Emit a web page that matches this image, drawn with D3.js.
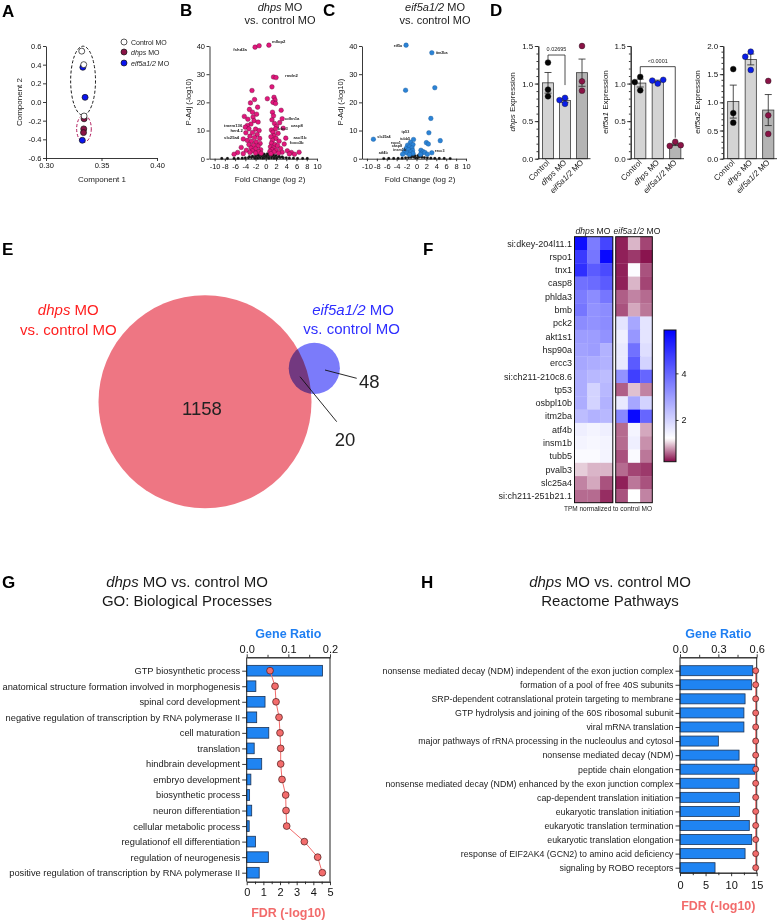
<!DOCTYPE html>
<html>
<head>
<meta charset="utf-8">
<script src="https://cdn.jsdelivr.net/npm/d3@7/dist/d3.min.js"></script>
<style>
html,body{margin:0;padding:0;background:#fff;}
svg{display:block;}
</style>
</head>
<body>
<svg id="fig" width="781" height="921" xmlns="http://www.w3.org/2000/svg"></svg>
<script>
// ===================== DATA =====================
// A: PCA
const pcaGroups = ["Control MO", "*dhps* MO", "*eif5a1/2* MO"];
const pcaControl = [[0.3322, 0.545], [0.3340, 0.400], [0.3343, -0.150]];
const pcaDhps = [[0.3343, -0.180], [0.3340, -0.288], [0.3338, -0.328]];
const pcaEif = [[0.3332, 0.372], [0.3352, 0.050], [0.3327, -0.410]];
const pcaEllipseAll = [0.3334, 0.228, 0.0112, 0.370];   // cx, cy, rx, ry
const pcaEllipseDhps = [0.3342, -0.287, 0.0066, 0.145];
const pcaXTicks = [0.30, 0.35, 0.40];
const pcaYTicks = [-0.6, -0.4, -0.2, 0.0, 0.2, 0.4, 0.6];

// B: volcano dhps MO vs control MO  [log2 FC, -log10 padj]
const volcBSig = [
  [-2.1,39.6],[-1.3,40.1],[0.6,40.3],
  [1.5,29.0],[2.0,28.8],[1.2,25.5],[0.3,21.3],[1.6,21.8],[1.8,20.8],[1.4,20.0],[1.9,19.6],[3.0,17.2],
  [1.3,16.5],[1.5,15.2],[3.2,14.2],[1.2,13.8],[2.7,12.8],[1.7,12.5],[2.1,11.5],[3.4,10.8],[1.9,10.6],
  [1.1,10.2],[1.4,9.4],[2.4,9.0],[1.6,8.2],[1.0,7.8],[2.0,7.2],[3.9,7.3],[1.3,6.5],[2.6,6.2],[3.6,5.2],
  [1.1,5.5],[1.8,5.0],[2.3,4.6],[0.9,4.2],[1.5,3.8],[2.9,3.6],[1.2,3.2],[2.0,3.0],[4.2,2.8],[0.8,2.6],
  [1.6,2.4],[3.2,2.3],[5.0,2.2],[6.5,2.3],[2.5,2.0],[1.0,1.8],[4.6,1.7],[5.6,1.6],
  [-2.2,21.0],[-3.0,19.8],[-1.6,18.3],[-3.2,17.5],[-2.6,16.5],[-1.8,15.8],[-4.2,15.0],[-2.5,14.8],
  [-3.5,14.0],[-2.3,13.5],[-1.5,13.0],[-2.9,12.3],[-3.6,11.8],[-4.0,11.2],[-3.3,10.6],[-2.0,10.5],
  [-1.3,10.0],[-3.9,9.2],[-2.6,9.3],[-1.7,8.6],[-3.1,8.0],[-2.2,7.5],[-1.2,7.2],[-4.4,7.0],[-3.6,6.5],
  [-2.8,6.2],[-1.9,5.9],[-1.1,5.4],[-3.3,5.0],[-2.4,4.8],[-1.5,4.5],[-4.8,4.0],[-2.9,3.8],[-2.0,3.5],
  [-1.0,3.2],[-3.8,3.0],[-2.6,2.8],[-1.4,2.5],[-5.5,2.2],[-3.1,2.2],[-2.0,2.0],[-6.2,1.6],[-4.4,1.8],
  [-0.9,1.9],[-2.7,24.2]
];
const volcBNs = [
  [-0.2,0.3],[0.2,0.4],[-0.5,0.6],[0.5,0.7],[-0.8,1.0],[0.8,1.1],[-1.0,1.3],[1.0,1.4],[-0.4,1.1],[0.4,1.2],
  [-0.7,1.5],[0.7,1.6],[-1.3,0.8],[1.3,0.9],[-1.8,0.6],[1.8,0.7],[-2.3,0.5],[2.3,0.5],[-2.8,0.4],[2.8,0.4],
  [-3.4,0.3],[3.4,0.3],[-4.0,0.25],[4.0,0.3],[-4.6,0.2],[4.6,0.2],[-5.4,0.15],[5.4,0.2],[-6.2,0.1],[6.2,0.1],
  [-7.5,0.1],[7.2,0.1],[-0.1,0.8],[0.1,1.0],[-1.5,1.2],[1.5,1.3],[-2.0,1.0],[2.0,1.1],[-2.6,0.9],[2.6,0.8],
  [-3.2,0.7],[3.2,0.6],[-0.6,0.2],[0.6,0.2],[-1.1,0.3],[1.1,0.3],[-1.6,0.2],[1.6,0.2],[-2.1,0.15],[2.1,0.15],
  [-8.6,0.1],[8.1,0.1],[-0.3,1.6],[0.3,1.7]
];
// labels: [text, x, y, anchor]
const volcBLabels = [
  ["mllop2",1.2,40.9,"start"],["fshd2a",-3.7,38.3,"end"],["rmdn2",3.75,29.1,"start"],
  ["cdkn1a",3.75,13.9,"start"],["casp8",4.9,11.3,"start"],["bbc3",2.4,10.2,"start"],
  ["ascl1b",5.4,7.1,"start"],["foxo3b",4.7,5.2,"start"],["tmem136",-4.6,11.1,"end"],
  ["her4.2",-4.5,9.3,"end"],["slc25a4",-5.2,7.1,"end"]
];

// C: volcano eif5a1/2 MO vs control MO
const volcCSig = [
  [-2.1,40.3],[3.1,37.6],[-2.2,24.3],[3.7,25.2],[2.9,14.3],[2.5,9.2],[4.8,6.4],[2.0,5.7],[2.4,5.2],[3.1,2.1],
  [-8.7,6.9],
  [-0.6,6.8],[-1.2,5.8],[-0.7,5.0],[-1.8,4.8],[-1.4,4.2],[-0.9,3.8],[-2.1,3.6],[-1.6,3.2],[-0.8,2.9],
  [-2.4,2.6],[-1.2,2.4],[-1.9,2.0],[-0.7,1.9],[-2.8,1.6],[-1.4,1.5],
  [0.9,3.0],[1.3,2.5],[1.0,1.9],[1.7,2.2],[2.2,1.6],[0.8,1.5]
];
const volcCNs = [
  [-0.2,0.3],[0.2,0.3],[-0.5,0.6],[0.5,0.6],[-0.8,0.9],[0.8,0.9],[-0.3,1.0],[0.3,1.1],[-1.1,0.5],[1.1,0.5],
  [-1.6,0.4],[1.6,0.4],[-2.2,0.3],[2.2,0.3],[-2.9,0.2],[2.9,0.2],[-3.7,0.15],[3.7,0.15],[-4.6,0.1],[4.6,0.1],
  [-5.6,0.1],[5.6,0.1],[-6.6,0.05],[6.8,0.05],[-0.6,1.3],[0.6,1.3],[-1.0,1.1],[1.0,1.1]
];
const volcCLabels = [
  ["eif5a",-2.9,39.6,"end"],["itm2ba",3.9,37.0,"start"],["tp53",-3.0,9.0,"start"],
  ["slc25a4",-7.9,7.4,"start"],["tubb5",-3.3,6.6,"start"],["rspo1",-5.2,5.3,"start"],
  ["casp8",-5.0,4.0,"start"],["insm1b",-4.7,2.8,"start"],["atf4b",-7.6,1.6,"start"],
  ["ercc3",3.7,2.5,"start"]
];
const volcXTicks = [-10,-8,-6,-4,-2,0,2,4,6,8,10];
const volcYTicks = [0,10,20,30,40];

// D: qPCR (3 replicates per group)
const qpcrGroups = ["Control", "*dhps* MO", "*eif5a1/2* MO"];
const qpcrGenes = ["*dhps* Expression", "*eif5a1* Expression", "*eif5a2* Expression"];
const dhpsExpr   = [[1.28, 0.92, 0.83], [0.81, 0.73, 0.78], [1.50, 1.03, 0.905]];
const eif5a1Expr = [[1.09, 1.02, 0.91], [1.00, 1.04, 1.05], [0.225, 0.17, 0.18]];
const eif5a2Expr = [[1.59, 0.81, 0.64], [1.90, 1.81, 1.575], [1.38, 0.77, 0.44]];
const qpcrMax = [1.5, 1.5, 2.0];
const qpcrBrackets = [
  {chart: 0, from: 0, to: 1, level: 1.38, endFrom: 1.30, endTo: 0.98, text: "0.02695"},
  {chart: 1, from: 0, to: 2, level: 1.225, endFrom: 1.13, endTo: 0.28, text: "<0.0001"}
];

// E: Venn
const vennNames = [["*dhps* MO", "vs. control MO"], ["*eif5a1/2* MO", "vs. control MO"]];
const vennCounts = [1158, 20, 48]; // only dhps, shared, only eif5a1/2

// F: heatmap (TPM normalized to control MO)
const hmGenes = ["si:dkey-204l11.1","rspo1","tnx1","casp8","phlda3","bmb","pck2","akt1s1","hsp90a","ercc3",
  "si:ch211-210c8.6","tp53","osbpl10b","itm2ba","atf4b","insm1b","tubb5","pvalb3","slc25a4","si:ch211-251b21.1"];
const hmDhps = [[5.6,3.6,4.6],[4.8,3.7,5.7],[5.0,4.2,4.5],[3.8,3.9,4.2],[3.6,3.3,3.7],[3.7,3.2,3.3],[3.3,3.2,3.3],
  [3.0,3.0,3.2],[2.9,3.0,2.6],[2.8,2.7,2.6],[2.7,2.5,2.4],[2.7,2.0,2.5],[2.7,2.0,2.6],[2.4,2.6,2.5],
  [1.5,1.4,1.5],[1.4,1.35,1.4],[1.3,1.3,1.4],[1.0,0.9,0.9],[0.7,0.85,0.5],[0.6,0.6,0.35]];
const hmEif = [[0.3,0.9,0.45],[0.3,0.4,0.25],[0.3,1.25,0.5],[0.3,0.9,0.45],[0.55,0.7,0.6],[0.5,0.85,0.65],[1.7,2.8,1.7],
  [1.5,3.1,1.7],[1.6,3.8,1.8],[1.6,4.2,2.0],[3.2,4.7,4.0],[0.55,0.95,0.7],[1.6,2.8,2.0],[3.4,5.7,4.0],
  [0.6,1.4,0.85],[0.6,1.5,0.75],[0.5,1.3,0.65],[0.6,0.45,0.4],[0.3,0.65,0.5],[0.5,1.2,0.7]];
const hmGroups = ["*dhps* MO", "*eif5a1/2* MO"];
const hmColorDomain = [0.21, 1.2, 5.86];
const hmBarTicks = [2, 4];

// G: GO Biological Processes
const goTerms = ["GTP biosynthetic process","anatomical structure formation involved in morphogenesis",
  "spinal cord development","negative regulation of transcription by RNA polymerase II","cell maturation",
  "translation","hindbrain development","embryo development","biosynthetic process","neuron differentiation",
  "cellular metabolic process","regulationof ell differentiation","regulation of neurogenesis",
  "positive regulation of transcription by RNA polymerase II"];
const goGeneRatio = [0.182,0.022,0.044,0.024,0.053,0.018,0.036,0.010,0.007,0.012,0.006,0.021,0.052,0.030];
const goFDR = [1.40,1.70,1.76,1.94,2.00,2.04,2.04,2.12,2.34,2.36,2.40,3.46,4.26,4.54];

// H: Reactome pathways
const rxTerms = ["nonsense mediated decay (NDM) independent of the exon juction complex",
  "formation of a pool of free 40S subunits","SRP-dependent cotranslational protein targeting to membrane",
  "GTP hydrolysis and joining of the 60S ribosomal subunit","viral mRNA translation",
  "major pathways of rRNA processing in the nucleoulus and cytosol","nonsense mediated decay (NDM)",
  "peptide chain elongation","nonsense mediated decay (NDM) enhanced by the exon junction complex",
  "cap-dependent translation initiation","eukaryotic translation initiation","eukaryotic translation termination",
  "eukaryotic translation elongation","response of EIF2AK4 (GCN2) to amino acid deficiency",
  "signaling by ROBO receptors"];
const rxGeneRatio = [0.569,0.561,0.509,0.500,0.500,0.300,0.462,0.587,0.462,0.465,0.465,0.542,0.561,0.509,0.274];
const rxFDR = [14.8,14.8,14.8,14.8,14.8,14.8,14.8,14.8,14.8,14.8,14.8,14.8,14.8,14.8,14.8];

// ===================== RENDER =====================
const FONT = '"Liberation Sans", Arial, Helvetica, sans-serif';
const svg = d3.select("#fig").attr("font-family", FONT);
const hy = f => d => d3.format(f)(d).replace("\u2212", "-");

function addText(parent, x, y, str, size, o = {}) {
  const t = parent.append("text").attr("x", x).attr("y", y)
    .attr("font-size", size).attr("font-family", FONT)
    .attr("text-anchor", o.anchor || "middle").attr("fill", o.fill || "#1a1a1a");
  if (o.weight) t.attr("font-weight", o.weight);
  if (o.rotate != null) t.attr("transform", `rotate(${o.rotate},${x},${y})`);
  String(str).split("*").forEach((s, i) => {
    if (s) { const ts = t.append("tspan").text(s); if (i % 2) ts.attr("font-style", "italic"); }
  });
  return t;
}
function styleAxis(g, fs, col) {
  col = col || "#222";
  g.attr("font-family", FONT);
  g.select(".domain").attr("stroke", col).attr("stroke-width", 0.9);
  g.selectAll(".tick line").attr("stroke", col).attr("stroke-width", 0.9);
  g.selectAll(".tick text").attr("font-size", fs).attr("fill", "#111").attr("font-family", FONT);
}
function letter(x, y, s) { addText(svg, x, y, s, 17, {anchor: "start", weight: "bold", fill: "#000"}); }

// ---------- A ----------
letter(2, 17, "A");
{
  const g = svg.append("g");
  const x = d3.scaleLinear().domain([0.30, 0.40]).range([46, 157]);
  const y = d3.scaleLinear().domain([-0.6, 0.6]).range([158, 46]);
  g.append("g").attr("transform", "translate(0,158)")
    .call(d3.axisBottom(x).tickValues(pcaXTicks).tickFormat(hy(".2f")).tickSize(3).tickSizeOuter(0).tickPadding(2))
    .call(styleAxis, 7.5);
  g.append("g").attr("transform", "translate(46,0)")
    .call(d3.axisLeft(y).tickValues(pcaYTicks).tickFormat(hy(".1f")).tickSize(3).tickSizeOuter(0).tickPadding(1.5))
    .call(styleAxis, 7.5);
  addText(g, 102, 182, "Component 1", 8);
  addText(g, 22, 102, "Component 2", 8, {rotate: -90});
  const ell = (e, col) => g.append("ellipse").attr("cx", x(e[0])).attr("cy", y(e[1]))
    .attr("rx", x(e[0] + e[2]) - x(e[0])).attr("ry", y(e[1] - e[3]) - y(e[1]))
    .attr("fill", "none").attr("stroke", col).attr("stroke-width", 1).attr("stroke-dasharray", "3,2");
  ell(pcaEllipseAll, "#1a1a1a");
  ell(pcaEllipseDhps, "#b0185a");
  const fills = ["#ffffff", "#8a1346", "#0a14f0"];
  [pcaEif, pcaDhps, pcaControl].forEach((pts, k) => {
    const fill = fills[2 - k];
    g.selectAll(null).data(pts).join("circle").attr("cx", d => x(d[0])).attr("cy", d => y(d[1]))
      .attr("r", 3).attr("fill", fill).attr("stroke", "#111").attr("stroke-width", 0.7);
  });
  // legend
  pcaGroups.forEach((name, i) => {
    const ly = [42, 52, 63][i];
    g.append("circle").attr("cx", 124).attr("cy", ly).attr("r", 3).attr("fill", fills[i]).attr("stroke", "#111").attr("stroke-width", 0.7);
    addText(g, 131, ly + 2.5, name, 7, {anchor: "start"});
  });
}

// ---------- B & C volcano ----------
function volcano(cfg) {
  const g = svg.append("g");
  const x = d3.scaleLinear().domain([-11, 10]).range([cfg.x0, cfg.x1]);
  const y = d3.scaleLinear().domain([0, 40]).range([158.7, 46]);
  g.append("g").attr("transform", "translate(0,158.7)")
    .call(d3.axisBottom(x).tickValues(volcXTicks).tickFormat(hy("d")).tickSize(2.5).tickSizeOuter(0).tickPadding(2))
    .call(styleAxis, 7.5);
  g.append("g").attr("transform", `translate(${cfg.x0},0)`)
    .call(d3.axisLeft(y).tickValues(volcYTicks).tickSize(3).tickSizeOuter(0).tickPadding(1.5))
    .call(styleAxis, 7.5);
  addText(g, cfg.xlabX, 182, "Fold Change (log 2)", 8);
  addText(g, cfg.x0 - 19, 102, "P-Adj (-log10)", 7.5, {rotate: -90});
  addText(g, cfg.titleX, 11, cfg.title[0], 11);
  addText(g, cfg.titleX, 24, cfg.title[1], 11);
  g.selectAll(null).data(cfg.ns).join("circle").attr("cx", d => x(d[0])).attr("cy", d => y(d[1]))
    .attr("r", 1.4).attr("fill", "#111").attr("stroke", "#555").attr("stroke-width", 0.2);
  g.selectAll(null).data(cfg.sig).join("circle").attr("cx", d => x(d[0])).attr("cy", d => y(d[1]))
    .attr("r", 2.3).attr("fill", cfg.color).attr("stroke", cfg.stroke).attr("stroke-width", 0.4);
  cfg.labels.forEach(l => {
    addText(g, x(l[1]), y(l[2]), l[0], cfg.labSize, {anchor: l[3], weight: "bold", fill: "#222"});
  });
}
letter(180, 16, "B");
volcano({x0: 209.5, x1: 317, xlabX: 270, titleX: 280, title: ["*dhps* MO", "vs. control MO"],
  sig: volcBSig, ns: volcBNs, labels: volcBLabels, color: "#e3177d", stroke: "#5c0a33", labSize: 4.2});
letter(323, 16, "C");
volcano({x0: 362, x1: 466, xlabX: 420, titleX: 435, title: ["*eif5a1/2* MO", "vs. control MO"],
  sig: volcCSig, ns: volcCNs, labels: volcCLabels, color: "#2b83d6", stroke: "#1b5a9a", labSize: 3.7});

// ---------- D qPCR ----------
letter(490, 16, "D");
{
  const qpcrData = [dhpsExpr, eif5a1Expr, eif5a2Expr];
  const layout = [{ax: 538.3, x0: 539.5, x1: 590.5}, {ax: 630.7, x0: 631.5, x1: 684}, {ax: 723.3, x0: 724.5, x1: 777}];
  const dotFill = ["#050505", "#0a1ee8", "#8a1346"];
  const scales = [];
  layout.forEach((L, ci) => {
    const g = svg.append("g");
    const ymax = qpcrMax[ci];
    const y = d3.scaleLinear().domain([0, ymax]).range([158.7, 46]);
    const x = d3.scaleBand().domain(qpcrGroups).range([L.x0, L.x1]).paddingInner(0.36).paddingOuter(0.18);
    scales.push({x, y});
    qpcrData[ci].forEach((v, k) => {
      const m = d3.mean(v), se = d3.deviation(v) / Math.sqrt(v.length);
      const bx = x(qpcrGroups[k]), bw = x.bandwidth(), cx = bx + bw / 2;
      g.append("rect").attr("x", bx).attr("y", y(m)).attr("width", bw).attr("height", y(0) - y(m))
        .attr("fill", k === 2 ? "#b4b4b4" : "#d4d4d4").attr("stroke", "#3a3a3a").attr("stroke-width", 0.8);
      g.append("path").attr("d", `M${cx},${y(m - se)}V${y(m + se)}M${cx - 3.5},${y(m + se)}H${cx + 3.5}M${cx - 3.5},${y(m - se)}H${cx + 3.5}`)
        .attr("stroke", "#222").attr("stroke-width", 0.8).attr("fill", "none");
    });
    const r = 2.9;
    qpcrData[ci].forEach((v, k) => {
      const cx = x(qpcrGroups[k]) + x.bandwidth() / 2;
      const placed = [];
      v.forEach(val => {
        const py = y(val);
        let px = cx;
        for (const off of [0, -5.5, 5.5, -11, 11]) {
          const ok = placed.every(p => Math.hypot(p[0] - (cx + off), p[1] - py) >= 2 * r - 0.01);
          if (ok) { px = cx + off; break; }
        }
        placed.push([px, py]);
      });
      g.selectAll(null).data(placed).join("circle").attr("cx", d => d[0]).attr("cy", d => d[1]).attr("r", r)
        .attr("fill", dotFill[k]).attr("stroke", "#111").attr("stroke-width", 0.4);
    });
    g.append("g").attr("transform", `translate(${L.ax},0)`)
      .call(d3.axisLeft(y).tickValues(d3.range(0, ymax + 1e-9, 0.1)).tickFormat("").tickSize(1.8).tickSizeOuter(0))
      .call(styleAxis, 8);
    g.append("g").attr("transform", `translate(${L.ax},0)`)
      .call(d3.axisLeft(y).tickValues(d3.range(0, ymax + 1e-9, 0.5)).tickFormat(d3.format(".1f")).tickSize(3.5).tickSizeOuter(0).tickPadding(1.5))
      .call(styleAxis, 8);
    g.append("line").attr("x1", L.ax).attr("x2", L.x1).attr("y1", 158.7).attr("y2", 158.7).attr("stroke", "#222").attr("stroke-width", 0.9);
    addText(g, L.ax - 23, 102, qpcrGenes[ci], 8, {rotate: -90});
    qpcrGroups.forEach(grp => {
      const cx = x(grp) + x.bandwidth() / 2 + 2;
      addText(g, cx, 163, grp, 8, {anchor: "end", rotate: -45});
    });
  });
  qpcrBrackets.forEach(b => {
    const {x, y} = scales[b.chart];
    const x1 = x(qpcrGroups[b.from]) + x.bandwidth() / 2, x2 = x(qpcrGroups[b.to]) + x.bandwidth() / 2;
    svg.append("path").attr("d", `M${x1},${y(b.endFrom)}V${y(b.level)}H${x2}V${y(b.endTo)}`)
      .attr("fill", "none").attr("stroke", "#222").attr("stroke-width", 0.8);
    addText(svg, (x1 + x2) / 2, y(b.level) - 4, b.text, 5.5, {fill: "#222"});
  });
}

// ---------- E Venn ----------
letter(2, 255, "E");
{
  const g = svg.append("g");
  const r = d3.scaleSqrt().domain([0, vennCounts[0] + vennCounts[1]]).range([0, 106.5]);
  const big = [205, 401.7], small = [314.3, 368.3];
  g.append("circle").attr("cx", big[0]).attr("cy", big[1]).attr("r", r(vennCounts[0] + vennCounts[1])).attr("fill", "#ee7683");
  g.append("circle").attr("cx", small[0]).attr("cy", small[1]).attr("r", r(vennCounts[1] + vennCounts[2]))
    .attr("fill", "#7b7bfa").style("mix-blend-mode", "multiply");
  addText(g, 68.3, 315.4, vennNames[0][0], 15, {fill: "#ff1f1f"});
  addText(g, 68.3, 334.7, vennNames[0][1], 15, {fill: "#ff1f1f"});
  addText(g, 353, 315.4, vennNames[1][0], 15, {fill: "#2f2fff"});
  addText(g, 351.7, 333.7, vennNames[1][1], 15, {fill: "#2f2fff"});
  addText(g, 202, 414.7, d3.format("d")(vennCounts[0]), 18.5, {fill: "#222"});
  addText(g, 369.3, 388.2, d3.format("d")(vennCounts[2]), 18.5, {fill: "#222"});
  addText(g, 345, 445.8, d3.format("d")(vennCounts[1]), 18.5, {fill: "#222"});
  g.append("line").attr("x1", 325).attr("y1", 370).attr("x2", 356.7).attr("y2", 378.3).attr("stroke", "#111").attr("stroke-width", 0.9);
  g.append("line").attr("x1", 300).attr("y1", 376.7).attr("x2", 336.7).attr("y2", 421.7).attr("stroke", "#111").attr("stroke-width", 0.9);
}

// ---------- F heatmap ----------
letter(423, 255, "F");
{
  const g = svg.append("g");
  const color = d3.scaleLinear().domain(hmColorDomain).range(["#850a48", "#ffffff", "#0000ff"]).clamp(true);
  const yb = d3.scaleBand().domain(hmGenes).range([236.7, 502.7]);
  const xg = [d3.scaleBand().domain([0, 1, 2]).range([574.5, 612.8]), d3.scaleBand().domain([0, 1, 2]).range([615.7, 652.3])];
  [hmDhps, hmEif].forEach((M, gi) => {
    hmGenes.forEach((gene, i) => {
      M[i].forEach((v, j) => {
        g.append("rect").attr("x", xg[gi](j)).attr("y", yb(gene)).attr("width", xg[gi].bandwidth() + 0.3)
          .attr("height", yb.bandwidth() + 0.3).attr("fill", color(v));
      });
    });
    const rg = xg[gi].range();
    g.append("rect").attr("x", rg[0]).attr("y", 236.7).attr("width", rg[1] - rg[0]).attr("height", 266)
      .attr("fill", "none").attr("stroke", "#111").attr("stroke-width", 1);
  });
  addText(g, 593, 234, hmGroups[0], 8.6);
  addText(g, 613.5, 234, hmGroups[1], 8.6, {anchor: "start"});
  hmGenes.forEach(gene => addText(g, 572, yb(gene) + yb.bandwidth() / 2 + 3.2, gene, 9, {anchor: "end"}));
  addText(g, 608, 510.5, "TPM normalized to control MO", 6.5);
  const cb = d3.scaleLinear().domain([hmColorDomain[0], hmColorDomain[2]]).range([461.7, 330]);
  const grad = svg.append("defs").append("linearGradient").attr("id", "cbar").attr("x1", 0).attr("y1", 1).attr("x2", 0).attr("y2", 0);
  d3.range(0, 1.0001, 0.02).forEach(t => {
    const v = hmColorDomain[0] + t * (hmColorDomain[2] - hmColorDomain[0]);
    grad.append("stop").attr("offset", t).attr("stop-color", color(v));
  });
  g.append("rect").attr("x", 664).attr("y", 330).attr("width", 12).attr("height", 131.7)
    .attr("fill", "url(#cbar)").attr("stroke", "#111").attr("stroke-width", 1);
  const ax = g.append("g").attr("transform", "translate(676,0)")
    .call(d3.axisRight(cb).tickValues(hmBarTicks).tickFormat(d3.format("d")).tickSize(2.5).tickSizeOuter(0).tickPadding(3));
  ax.select(".domain").remove();
  styleAxis(ax, 9);
}

// ---------- G & H enrichment ----------
function enrich(cfg) {
  const g = svg.append("g");
  const y = d3.scalePoint().domain(cfg.terms).range([cfg.c0, cfg.c1]);
  const xr = d3.scaleLinear().domain([0, cfg.rmax]).range([cfg.left, cfg.right]);
  const xf = d3.scaleLinear().domain([0, cfg.fmax]).range([cfg.left, cfg.right]);
  const bh = cfg.barH;
  g.selectAll(null).data(cfg.terms).join("rect")
    .attr("x", cfg.left).attr("y", d => y(d) - bh / 2)
    .attr("width", (d, i) => xr(cfg.ratio[i]) - cfg.left).attr("height", bh)
    .attr("fill", "#1f84f2").attr("stroke", "#1b3356").attr("stroke-width", 0.8);
  g.append("line").attr("x1", cfg.left).attr("x2", cfg.left).attr("y1", cfg.top).attr("y2", cfg.bot).attr("stroke", "#222").attr("stroke-width", 1);
  g.append("line").attr("x1", cfg.right).attr("x2", cfg.right).attr("y1", cfg.top).attr("y2", cfg.bot).attr("stroke", "#222").attr("stroke-width", 1);
  g.append("g").attr("transform", `translate(0,${cfg.top})`)
    .call(d3.axisTop(xr).tickValues(cfg.rMinor).tickFormat("").tickSize(2.5).tickSizeOuter(0)).call(styleAxis, 11);
  g.append("g").attr("transform", `translate(0,${cfg.top})`)
    .call(d3.axisTop(xr).tickValues(cfg.rTicks).tickFormat(d3.format(".1f")).tickSize(3).tickSizeOuter(0).tickPadding(1.5))
    .call(styleAxis, 11);
  g.append("g").attr("transform", `translate(0,${cfg.bot})`)
    .call(d3.axisBottom(xf).tickValues(cfg.fMinor).tickFormat("").tickSize(2.5).tickSizeOuter(0)).call(styleAxis, 11);
  g.append("g").attr("transform", `translate(0,${cfg.bot})`)
    .call(d3.axisBottom(xf).tickValues(cfg.fTicks).tickFormat(d3.format("d")).tickSize(3.5).tickSizeOuter(0).tickPadding(cfg.fPad))
    .call(styleAxis, 11);
  const la = g.append("g").attr("transform", `translate(${cfg.left},0)`)
    .call(d3.axisLeft(y).tickSize(4.5).tickPadding(2).tickSizeOuter(0));
  la.select(".domain").remove();
  styleAxis(la, cfg.labSize);
  la.selectAll(".tick text").attr("fill", "#1a1a1a");
  const line = d3.line().x((d, i) => xf(cfg.fdr[i])).y(d => y(d));
  g.append("path").datum(cfg.terms).attr("d", line).attr("fill", "none").attr("stroke", "#f26b6b").attr("stroke-width", 1);
  g.selectAll(null).data(cfg.terms).join("circle").attr("cx", (d, i) => xf(cfg.fdr[i])).attr("cy", d => y(d))
    .attr("r", cfg.ptR).attr("fill", "#f36c6c").attr("stroke", "#4a1a1a").attr("stroke-width", 0.7);
  addText(g, cfg.titleX, 587, "*dhps* MO vs. control MO", 15);
  addText(g, cfg.titleX, 605.5, cfg.subtitle, 15);
  addText(g, (cfg.left + cfg.right) / 2, 637.5, "Gene Ratio", 12.5, {weight: "bold", fill: "#1f7ff2"});
  addText(g, (cfg.left + cfg.right) / 2, cfg.fdrLabY, "FDR (-log10)", 12.5, {weight: "bold", fill: "#f26b6b"});
}
letter(2, 588, "G");
enrich({terms: goTerms, ratio: goGeneRatio, fdr: goFDR, left: 246.7, right: 330, top: 657.3, bot: 881.7,
  c0: 670.7, c1: 872.7, barH: 10.7, rmax: 0.2, fmax: 5, rTicks: [0, 0.1, 0.2], rMinor: [0.05, 0.15],
  fTicks: [0, 1, 2, 3, 4, 5], fMinor: [0.5, 1.5, 2.5, 3.5, 4.5], fPad: 3, ptR: 3.4, labSize: 9.3,
  titleX: 187, subtitle: "GO: Biological Processes", fdrLabY: 917});
letter(421, 588, "H");
enrich({terms: rxTerms, ratio: rxGeneRatio, fdr: rxFDR, left: 680, right: 756.7, top: 657.3, bot: 872.7,
  c0: 670.7, c1: 867.7, barH: 10, rmax: 0.6, fmax: 15, rTicks: [0, 0.3, 0.6], rMinor: [0.15, 0.45],
  fTicks: [0, 5, 10, 15], fMinor: [2.5, 7.5, 12.5], fPad: 5, ptR: 3, labSize: 8.8,
  titleX: 610, subtitle: "Reactome Pathways", fdrLabY: 910});
</script>
</body>
</html>
